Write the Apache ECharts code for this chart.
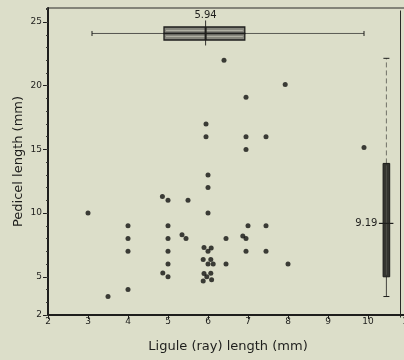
<!DOCTYPE html>
<html>
<head>
<meta charset="utf-8">
<script src="https://cdn.jsdelivr.net/npm/echarts@6/dist/echarts.min.js"></script>
<style>
html,body{margin:0;padding:0;background:#dcdec9;}
#c{width:404px;height:360px;}
</style>
</head>
<body>
<div id="c"></div>
<script>
// Scatter data: ligule (ray) length vs pedicel length (mm)
const ligule  = [3, 4, 4, 4, 4, 3.5,
  4.86, 5, 5.5, 5, 5.35, 5.45, 5, 5, 5, 4.87, 5,
  6, 6, 6.45, 7, 7.45, 6.87, 6.95, 6.95, 7.45, 8, 6.45,
  5.9, 6.08, 6, 5.88, 6.07, 6, 6.13, 5.9, 6.07, 5.97, 5.88, 6.09,
  6.4, 7.93, 6.95, 5.95, 5.95, 6.95, 7.45, 6.95, 6, 9.9];
const pedicel = [10, 9, 8, 7, 4, 3.45,
  11.3, 11, 11, 9, 8.3, 8, 8, 7, 6, 5.3, 5,
  12, 10, 8, 9, 9, 8.2, 8, 7, 7, 6, 6,
  7.3, 7.25, 7, 6.35, 6.35, 6, 6, 5.25, 5.27, 5, 4.67, 4.77,
  22, 20.1, 19.1, 17, 16, 16, 16, 15, 13, 15.15];

// Box plot summaries: [min, q1, median, q3, max], position on the other axis
const ligBox = [3.1, 4.9, 5.94, 6.92, 9.9];
const ligBoxAt = 24.1;
const ligMedianLabel = '5.94';
const pedBox = [3.45, 5.0, 9.19, 13.9, 22.15];
const pedBoxAt = 10.46;
const pedMedianLabel = '9.19';

const xTicks = [2, 3, 4, 5, 6, 7, 8, 9, 10, 11];
const yTicks = [2, 5, 10, 15, 20, 25];

const ink = '#1e1e1c';
const font = 'DejaVu Sans';

const chart = echarts.init(document.getElementById('c'));

function hBox(params, api) {
  const b = ligBox;
  const y = ligBoxAt;
  const pMin = api.coord([b[0], y]), pQ1 = api.coord([b[1], y]), pMed = api.coord([b[2], y]),
        pQ3 = api.coord([b[3], y]), pMax = api.coord([b[4], y]);
  const cy = pMin[1], h = 6.5;
  const ls = {stroke: ink, lineWidth: 1};
  return {type: 'group', children: [
    {type: 'line', shape: {x1: pMin[0], y1: cy, x2: pQ1[0], y2: cy}, style: {stroke: '#55554f', lineWidth: 1}},
    {type: 'line', shape: {x1: pQ3[0], y1: cy, x2: pMax[0], y2: cy}, style: {stroke: '#3a3a36', lineWidth: 0.8}},
    {type: 'line', shape: {x1: pMin[0], y1: cy - 2.5, x2: pMin[0], y2: cy + 2.5}, style: ls},
    {type: 'line', shape: {x1: pMax[0], y1: cy - 2.5, x2: pMax[0], y2: cy + 2.5}, style: ls},
    {type: 'rect', shape: {x: pQ1[0], y: cy - h, width: pQ3[0] - pQ1[0], height: h}, style: {fill: '#85857c', stroke: ink, lineWidth: 1.3}},
    {type: 'rect', shape: {x: pQ1[0], y: cy, width: pQ3[0] - pQ1[0], height: h}, style: {fill: '#85857c', stroke: ink, lineWidth: 1.3}},
    {type: 'line', shape: {x1: pQ1[0] + 2, y1: cy - 3, x2: pQ3[0] - 2, y2: cy - 3}, style: {stroke: '#b0b0a5', lineWidth: 1}},
    {type: 'line', shape: {x1: pQ1[0] + 2, y1: cy + 3, x2: pQ3[0] - 2, y2: cy + 3}, style: {stroke: '#b0b0a5', lineWidth: 1}},
    {type: 'line', shape: {x1: pMed[0], y1: cy - 13, x2: pMed[0], y2: cy + 12}, style: {stroke: ink, lineWidth: 0.9}},
    {type: 'rect', shape: {x: pMed[0] - 1, y: cy - h, width: 2, height: 2 * h}, style: {fill: ink}},
    {type: 'text', x: pMed[0], y: cy - 18, style: {text: ligMedianLabel, fill: ink, font: '10px ' + font, align: 'center', verticalAlign: 'middle'}}
  ]};
}

function vBox(params, api) {
  const b = pedBox;
  const x = pedBoxAt;
  const pMin = api.coord([x, b[0]]), pQ1 = api.coord([x, b[1]]), pMed = api.coord([x, b[2]]),
        pQ3 = api.coord([x, b[3]]), pMax = api.coord([x, b[4]]);
  const cx = pMin[0], w = 3.3;
  const ls = {stroke: ink, lineWidth: 1};
  return {type: 'group', children: [
    {type: 'line', shape: {x1: cx, y1: pQ1[1], x2: cx, y2: pMin[1]}, style: {stroke: '#44443f', lineWidth: 1}},
    {type: 'line', shape: {x1: cx, y1: pQ3[1], x2: cx, y2: pMax[1]}, style: {stroke: '#55554f', lineWidth: 0.8, lineDash: [5, 3]}},
    {type: 'line', shape: {x1: cx - 3, y1: pMin[1], x2: cx + 3, y2: pMin[1]}, style: ls},
    {type: 'line', shape: {x1: cx - 3, y1: pMax[1], x2: cx + 3, y2: pMax[1]}, style: ls},
    {type: 'rect', shape: {x: cx - w, y: pQ3[1], width: 2 * w, height: pQ1[1] - pQ3[1]}, style: {fill: '#34342f', stroke: '#1a1a18', lineWidth: 1}},
    {type: 'line', shape: {x1: cx, y1: pQ3[1] + 2, x2: cx, y2: pQ1[1] - 2}, style: {stroke: '#55554f', lineWidth: 0.8}},
    {type: 'line', shape: {x1: cx - 7.5, y1: pMed[1], x2: cx + 7, y2: pMed[1]}, style: {stroke: ink, lineWidth: 1.2}},
    {type: 'text', x: cx - 9, y: pMed[1], style: {text: pedMedianLabel, fill: ink, font: '10px ' + font, align: 'right', verticalAlign: 'middle'}}
  ]};
}

const option = {
  backgroundColor: '#dcdec9',
  animation: false,
  grid: {left: 48, right: -4, top: 8, bottom: 45, outerBoundsMode: 'none', containLabel: false,
    show: true, borderColor: '#2a2a28', borderWidth: 1, backgroundColor: 'transparent'},
  xAxis: {
    type: 'value', min: 2, max: 11, interval: 1,
    name: 'Ligule (ray) length (mm)', nameLocation: 'middle', nameGap: 25,
    nameTextStyle: {fontFamily: font, fontSize: 13, color: ink},
    axisLine: {show: true, lineStyle: {color: ink, width: 2}},
    axisTick: {show: true, length: 4, lineStyle: {color: ink, width: 1}},
    axisLabel: {fontFamily: font, fontSize: 9, color: ink, margin: 2, customValues: xTicks},
    splitLine: {show: false}
  },
  yAxis: [{
    type: 'value', min: 2, max: 26.1,
    name: 'Pedicel length (mm)', nameLocation: 'middle', nameGap: 23, nameMoveOverlap: false,
    nameTextStyle: {fontFamily: font, fontSize: 13, color: ink},
    axisLine: {show: true, lineStyle: {color: ink, width: 2}},
    axisTick: {show: true, length: 5, lineStyle: {color: ink, width: 1}, customValues: yTicks},
    axisLabel: {fontFamily: font, fontSize: 9, color: ink, margin: 6, customValues: yTicks},
    splitLine: {show: false}
  }, {
    type: 'value', min: 2, max: 26.1, interval: 1, position: 'left', offset: 0,
    axisLine: {show: false},
    axisTick: {show: true, length: 2, lineStyle: {color: '#3a3a36', width: 1}},
    axisLabel: {show: false},
    splitLine: {show: false}
  }],
  graphic: [{
    type: 'line', right: 1, top: 8,
    shape: {x1: 0, y1: 0, x2: 0, y2: 307},
    style: {stroke: '#2a2a28', lineWidth: 1}
  }],
  series: [{
    type: 'scatter',
    data: ligule.map((v, i) => [v, pedicel[i]]),
    symbolSize: 5,
    itemStyle: {color: '#121210'}
  }, {
    type: 'custom', renderItem: hBox, data: [0], clip: false, z: 5
  }, {
    type: 'custom', renderItem: vBox, data: [0], clip: false, z: 5
  }]
};
chart.setOption(option);
</script>
</body>
</html>
